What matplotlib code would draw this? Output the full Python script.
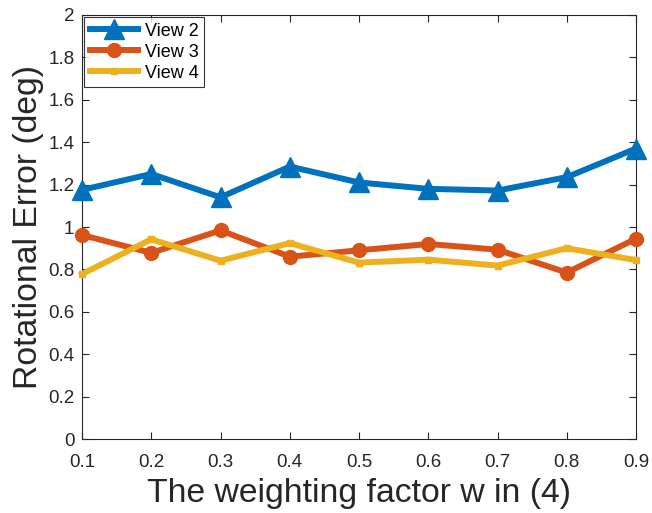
import matplotlib
matplotlib.use("Agg")
import matplotlib.pyplot as plt

w = [0.1, 0.2, 0.3, 0.4, 0.5, 0.6, 0.7, 0.8, 0.9]
view2 = [1.175, 1.25, 1.14, 1.285, 1.21, 1.18, 1.172, 1.235, 1.37]
view3 = [0.962, 0.878, 0.984, 0.86, 0.89, 0.92, 0.893, 0.785, 0.945]
view4 = [0.778, 0.942, 0.841, 0.924, 0.832, 0.846, 0.818, 0.9, 0.844]
labels = ["View 2", "View 3", "View 4"]
xticks = [0.1, 0.2, 0.3, 0.4, 0.5, 0.6, 0.7, 0.8, 0.9]
yticks = [0, 0.2, 0.4, 0.6, 0.8, 1, 1.2, 1.4, 1.6, 1.8, 2]
ytick_labels = ["0", "0.2", "0.4", "0.6", "0.8", "1", "1.2", "1.4", "1.6", "1.8", "2"]

plt.rcParams['font.family'] = ['Liberation Sans', 'DejaVu Sans']

fig = plt.figure(figsize=(6.52, 5.13), dpi=100)
ax = fig.add_axes([0.1258, 0.1442, 0.8497, 0.8266])

lw = 4.3
ax.plot(w, view2, color='#0072BD', lw=lw, marker='^', ms=15, label=labels[0], clip_on=False, zorder=3)
ax.plot(w, view3, color='#D95319', lw=lw, marker='o', ms=10, label=labels[1], clip_on=False, zorder=3)
ax.plot(w, view4, color='#EDB120', lw=lw, marker='s', ms=5, label=labels[2], clip_on=False, zorder=3)

ax.set_xlim(0.1, 0.9)
ax.set_ylim(0, 2)
ax.set_xticks(xticks)
ax.set_xticklabels([f"{v:.1f}" for v in xticks])
ax.set_yticks(yticks)
ax.set_yticklabels(ytick_labels)

tc = '#262626'
ax.tick_params(direction='in', length=5, width=0.8, top=True, right=True,
               labelsize=13.5, colors=tc, labelcolor=tc)
ax.tick_params(axis='x', pad=10.5)
ax.tick_params(axis='y', pad=5.5)
for s in ax.spines.values():
    s.set_color(tc)
    s.set_linewidth(0.8)

ax.set_xlabel("The weighting factor w in (4)", fontsize=24.3, color=tc, labelpad=5)
ax.set_ylabel("Rotational Error (deg)", fontsize=24.3, color=tc, labelpad=3)

leg = ax.legend(loc='upper left', fontsize=13, frameon=True, fancybox=False,
                edgecolor='black', borderaxespad=0.1, handlelength=2.7,
                handletextpad=0.35, borderpad=0.32, labelspacing=0.22)
leg.get_frame().set_linewidth(0.8)
leg.set_zorder(5)
for t in leg.get_texts():
    t.set_color('black')

fig.savefig("out.png", dpi=100)
